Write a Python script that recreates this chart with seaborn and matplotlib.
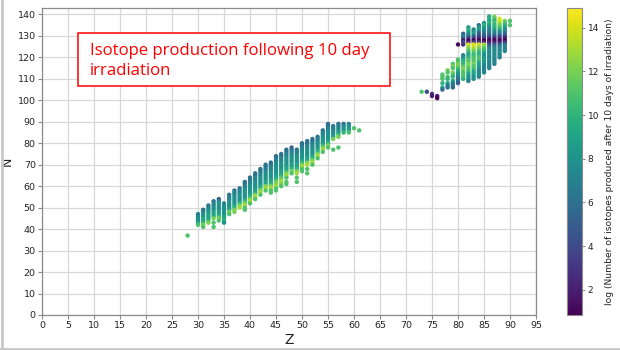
import numpy as np
import pandas as pd
import matplotlib
matplotlib.use("Agg")
import matplotlib.pyplot as plt
import seaborn as sns
from matplotlib.patches import Rectangle
from matplotlib.lines import Line2D
from matplotlib.colors import Normalize
from matplotlib.cm import ScalarMappable

# ---- data ----
# Each column: proton number Z, highest neutron number N in that column,
# and log-production values from top (highest N) downwards, one hex digit per N
# ('.' = no isotope at that N).
LOW_Z = [28, 30, 31, 32, 33, 34, 35, 36, 37, 38, 39, 40, 41, 42, 43, 44, 45,
         46, 47, 48, 49, 50, 51, 52, 53, 54, 55, 56, 57, 58, 59, 60, 61]
LOW_TOP_N = [37, 47, 49, 51, 53, 54, 52, 56, 58, 59, 62, 64, 66, 68, 70, 71, 74,
             75, 77, 78, 77, 80, 81, 82, 83, 86, 89, 88, 89, 89, 89, 87, 86]
LOW_LOGV = ["b", "77889b", "678899acb", "6788999ac", "67788999c.b.b",
            "57888899acb", "77888899a8", "67788889cb", "67788889acc",
            "6778888acd", "667788889acdbb", "667788889acdb", "6677888899cdb",
            "667788889acdb", "6677888899cdb", "6677888899acdbb",
            "66778888899accdbb", "6677888899abcdcb", "6677888899acdb.bb",
            "5677888899acb", "677888899acd.b.b", "667788889acdbb",
            "6677888899cd.b.b", "667788889acdb", "6778889acdb", "6778888acdb",
            "667788889acb", "677889c....b", "67788ac....b", "6788a", "7889b",
            "b", "b"]

HIGH_Z = [73, 74, 75, 76, 77, 78, 79, 80, 81, 82, 83, 84, 85, 86, 87, 88, 89, 90]
HIGH_TOP_N = [104, 104, 103, 102, 112, 114, 117, 126, 131, 134, 133, 135, 136,
              139, 139, 138, 137, 137]
HIGH_LOGV = ["b", "4", "32", "21", "bbb.a.96", "cb.ba.976", "bcb.cba.9766",
             "1......bbccba987665", "576243....789aabccbbba",
             "8a986412edcba9abbccbba9887", "7896413eedcbabbbcbba9988",
             "689754313edcbaabba9988787",
             "8a98765412dcba9889887777", "9a9a987765312467878787777",
             "cbabaa98753125687878777",
             "eedcba8753125687877", "cba987642136777", "b.b"]

CBAR_MIN, CBAR_MAX = 0.85, 14.9
CBAR_TICKS = [2, 4, 6, 8, 10, 12, 14]
X_TICKS = list(range(0, 96, 5))
Y_TICKS = list(range(0, 141, 10))
TITLE_LINES = ["Isotope production following 10 day", "irradiation"]
CBAR_LABEL = "log (Number of isotopes produced after 10 days of irradiation)"

rows = []
for zs, tops, vals in ((LOW_Z, LOW_TOP_N, LOW_LOGV), (HIGH_Z, HIGH_TOP_N, HIGH_LOGV)):
    for z, top, s in zip(zs, tops, vals):
        for i, c in enumerate(s):
            if c != ".":
                rows.append((z, top - i, int(c, 16)))
df = pd.DataFrame(rows, columns=["Z", "N", "logv"])

# ---- figure ----
sns.set_theme(style="whitegrid")
plt.rcParams["font.family"] = ["DejaVu Sans"]

W, H = 620, 350
fig = plt.figure(figsize=(W / 100, H / 100), dpi=100)
fig.patch.set_facecolor("white")

def fx(px):
    return px / W

def fy(py):
    return (H - py) / H

ax = fig.add_axes([fx(42), fy(315), fx(536) - fx(42), fy(8) - fy(315)])
cax = fig.add_axes([fx(567), fy(315), fx(582) - fx(567), fy(8) - fy(315)])

sns.scatterplot(data=df, x="Z", y="N", hue="logv", palette="viridis",
                hue_norm=(CBAR_MIN, CBAR_MAX), s=10, linewidth=0,
                legend=False, ax=ax, zorder=3)

ax.set_xlim(0, 95)
ax.set_ylim(0, 143)
ax.set_xticks(X_TICKS)
ax.set_yticks(Y_TICKS)
ax.set_facecolor("white")
ax.grid(True, color="#d8d8d8", linewidth=0.9)
for sp in ax.spines.values():
    sp.set_color("#8a8a8a")
    sp.set_linewidth(0.9)
ax.tick_params(axis="both", labelsize=6.8, colors="#8a8a8a", labelcolor="#222222",
               length=3, width=0.8, pad=1.5, bottom=True, left=True)
ax.set_xlabel("Z", fontsize=10, color="#222222", labelpad=2)
ax.set_ylabel("N", fontsize=9, color="#222222", labelpad=3)

sm = ScalarMappable(norm=Normalize(CBAR_MIN, CBAR_MAX), cmap="viridis")
cb = fig.colorbar(sm, cax=cax)
cb.set_ticks(CBAR_TICKS)
cb.outline.set_edgecolor("#8a8a8a")
cb.outline.set_linewidth(0.8)
cax.tick_params(labelsize=6.5, colors="#8a8a8a", labelcolor="#222222",
                length=2.5, width=0.7, pad=1.5, right=True)
cb.set_label(CBAR_LABEL, fontsize=6.6, color="#222222", labelpad=4)
cax.grid(False)

# annotation box
fig.add_artist(Rectangle((fx(78), fy(85.5)), fx(390) - fx(78), fy(33) - fy(85.5),
                         transform=fig.transFigure, facecolor="white",
                         edgecolor="red", linewidth=1.1, zorder=5))
t1 = fig.text(fx(90), fy(55), TITLE_LINES[0], color="red", fontsize=13,
              family="Open Sans", va="baseline", ha="left", zorder=6)
t2 = fig.text(fx(90), fy(75), TITLE_LINES[1], color="red", fontsize=13,
              family="Open Sans", va="baseline", ha="left", zorder=6)
fig.canvas.draw()
w = t1.get_window_extent().width
scale = 279.0 / w
for t in (t1, t2):
    t.set_fontsize(13 * scale)

# screenshot frame edges
fig.add_artist(Line2D([fx(1.5), fx(1.5)], [0, 1], transform=fig.transFigure,
                      color="#c8c8c8", linewidth=2))
fig.add_artist(Line2D([0, 1], [fy(348.5), fy(348.5)], transform=fig.transFigure,
                      color="#c8c8c8", linewidth=2))

fig.savefig("out.png", dpi=100)
